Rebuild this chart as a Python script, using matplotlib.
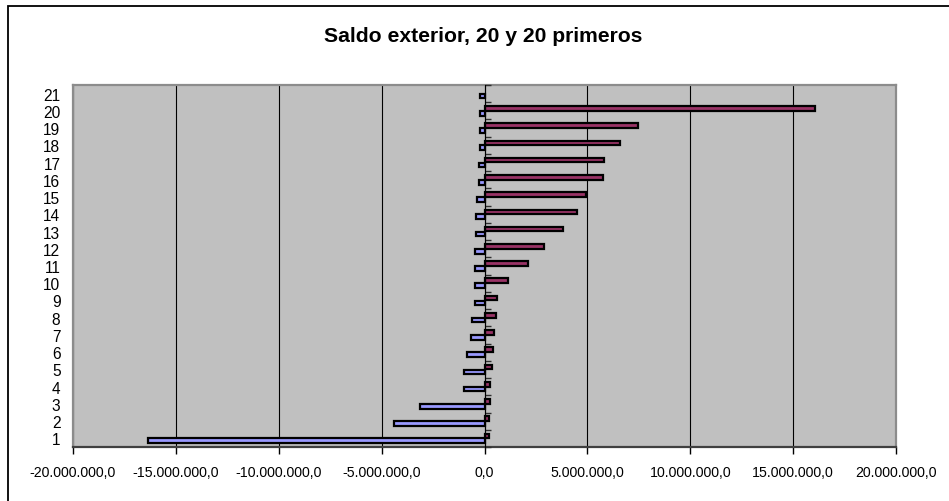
import numpy as np
import matplotlib
matplotlib.use("Agg")
import matplotlib.pyplot as plt
from matplotlib.patches import Rectangle
from matplotlib.ticker import FixedLocator, FuncFormatter, NullFormatter

plt.rcParams['font.family'] = ['Liberation Sans', 'DejaVu Sans']

# Categories 1..21
categories = list(range(1, 22))

# Positive balances (maroon series), category 1..21; 21 has no value
positivos = [0.22, 0.23, 0.27, 0.27, 0.35, 0.43, 0.44, 0.57, 0.62, 1.14,
             2.10, 2.91, 3.80, 4.51, 4.92, 5.76, 5.82, 6.58, 7.48, 16.06, np.nan]
# Negative balances (blue series), category 1..21
negativos = [-16.34, -4.38, -3.13, -1.01, -0.99, -0.86, -0.64, -0.62, -0.47, -0.45,
             -0.46, -0.45, -0.41, -0.41, -0.36, -0.28, -0.28, -0.23, -0.23, -0.22, -0.22]

title = "Saldo exterior, 20 y 20 primeros"
x_ticks = [-20, -15, -10, -5, 0, 5, 10, 15, 20]  # millions

pos = np.array(positivos) * 1e6
neg = np.array(negativos) * 1e6
y = np.arange(len(categories))

W, H = 949, 502
fig = plt.figure(figsize=(W / 100, H / 100), dpi=100)
fig.patch.set_facecolor('white')

# Chart-area frame
fig.add_artist(Rectangle((7.5 / W, -0.5), 2.0, 0.5 + (H - 6.5) / H,
                         transform=fig.transFigure, fill=False,
                         edgecolor='black', linewidth=1.3))

ax = fig.add_axes([73 / W, (H - 448) / H, 823 / W, 362 / H])
ax.set_facecolor('#C0C0C0')

bh = 0.27
off = 0.14
ax.barh(y + off, pos, height=bh, color='#993366', edgecolor='black',
        linewidth=1.6, zorder=3)
ax.barh(y - off, neg, height=bh, color='#9999FF', edgecolor='black',
        linewidth=1.6, zorder=3)

ax.set_xlim(-20e6, 20e6)
ax.set_ylim(-0.5, len(categories) - 0.5)

def fmt(v, _):
    m = int(round(v / 1e6))
    if m == 0:
        return "0,0"
    s = f"{abs(m)}.000.000,0"
    return "-" + s if m < 0 else s

ax.xaxis.set_major_locator(FixedLocator([t * 1e6 for t in x_ticks]))
ax.xaxis.set_major_formatter(FuncFormatter(fmt))
ax.tick_params(axis='x', direction='out', length=5, width=1, pad=8,
               labelsize=10.2, colors='black')
ax.grid(axis='x', color='black', linewidth=0.8, zorder=1)

ax.set_yticks(y)
ax.set_yticklabels([str(c) for c in categories])
ax.tick_params(axis='y', length=0, pad=9, labelsize=11.2)

for side in ('top', 'left', 'right'):
    ax.spines[side].set_color('#8c8c8c')
    ax.spines[side].set_linewidth(1.6)
ax.spines['bottom'].set_color('#404040')
ax.spines['bottom'].set_linewidth(1.6)

# Category axis crossing at zero, with tick marks between categories
sec = ax.secondary_yaxis(0.5)
sec.set_yticks(np.arange(-0.5, len(categories), 1.0))
sec.yaxis.set_major_formatter(NullFormatter())
sec.tick_params(axis='y', direction='out', length=4, width=1,
                labelleft=False, labelright=False, colors='#303030')
sec.spines['left'].set_color('#303030')
sec.spines['left'].set_linewidth(1.0)
sec.set_zorder(4)

fig.text(483 / W, (H - 42) / H, title, ha='center', va='baseline',
         fontsize=15.2, fontweight='bold')

fig.savefig("out.png", dpi=100)
